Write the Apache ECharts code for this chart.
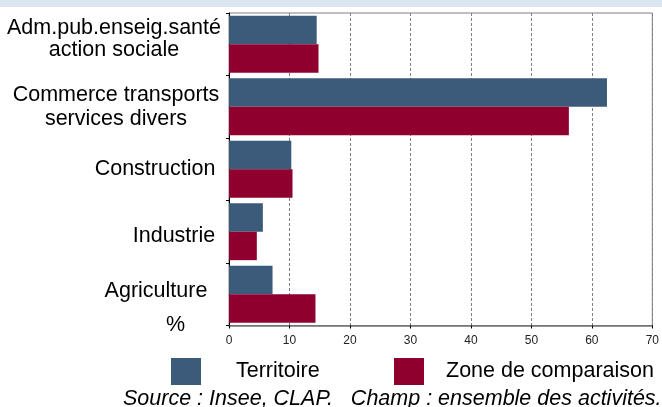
<!DOCTYPE html>
<html>
<head>
<meta charset="utf-8">
<script src="https://cdn.jsdelivr.net/npm/echarts@6/dist/echarts.min.js"></script>
<style>
  html, body { margin: 0; padding: 0; background: #fff; }
  #band { position: absolute; left: 0; top: 0; width: 662px; height: 7px; background: #dce6f2; }
  #chart { width: 662px; height: 407px; }
</style>
</head>
<body>
<div id="chart"></div>
<div id="band"></div>
<script>
// Sectors, top to bottom
const categories = [
  'Adm.pub.enseig.santé\naction sociale',
  'Commerce transports\nservices divers',
  'Construction',
  'Industrie',
  'Agriculture'
];
const seriesNames = ['Territoire', 'Zone de comparaison'];
// Share of establishments (%)
const territoire = [14.5, 62.5, 10.3, 5.6, 7.2];
const zoneComparaison = [14.8, 56.2, 10.5, 4.6, 14.3];
const xMin = 0, xMax = 70, xStep = 10;
const sourceText = 'Source : Insee, CLAP.   Champ : ensemble des activités.';

const FONT = 'Liberation Sans, Arial, sans-serif';
const LABEL_SIZE = 21.5;
// per-category label box: centring width, line height, vertical nudge (px, + = down)
const boxWidths = [216, 212, 134, 96, 132];
const lineHeights = [22, 24, 23, 23, 23];
const nudges = [-5, 0, 0, 4.5, -3];

const rich = {};
boxWidths.forEach((w, i) => {
  const base = {
    width: w, align: 'center', fontSize: LABEL_SIZE, lineHeight: lineHeights[i],
    fontFamily: FONT, color: '#000'
  };
  const d = nudges[i];
  const top = d > 0 ? 2 * d : 0;
  const bottom = d < 0 ? -2 * d : 0;
  rich['c' + i] = base;
  rich['s' + i] = Object.assign({}, base, { padding: [top, 0, bottom, 0] }); // single line
  rich['f' + i] = Object.assign({}, base, { padding: [top, 0, 0, 0] });     // first line
  // blank spacer line that lifts a multi-line block
  rich['g' + i] = { fontSize: 1, lineHeight: Math.max(bottom, 1), height: Math.max(bottom, 1) };
});

function categoryLabel(value, idx) {
  const lines = value.split('\n');
  if (lines.length === 1) return '{s' + idx + '|' + value + '}';
  const body = lines.map((l, k) => '{' + (k === 0 ? 'f' : 'c') + idx + '|' + l + '}').join('\n');
  return nudges[idx] < 0 ? body + '\n{g' + idx + '| }' : body;
}

const chart = echarts.init(document.getElementById('chart'), null, { renderer: 'canvas' });
chart.setOption({
  animation: false,
  textStyle: { fontFamily: FONT },
  grid: {
    left: 229, right: 6, top: 13, bottom: 81.5,
    show: true, borderColor: '#808080', borderWidth: 1, backgroundColor: '#fff'
  },
  legend: [
    {
      data: [seriesNames[0]], left: 166, top: 353,
      itemWidth: 30, itemHeight: 27, icon: 'rect',
      textStyle: { fontSize: LABEL_SIZE, color: '#000', padding: [0, 0, 0, 30] }
    },
    {
      data: [seriesNames[1]], left: 389, top: 353,
      itemWidth: 30, itemHeight: 27, icon: 'rect',
      textStyle: { fontSize: LABEL_SIZE, color: '#000', padding: [0, 0, 0, 17] }
    }
  ],
  title: {
    text: sourceText, left: 118, top: 383,
    textStyle: { fontSize: LABEL_SIZE, fontStyle: 'italic', fontWeight: 'normal', color: '#000', fontFamily: FONT }
  },
  xAxis: {
    type: 'value', min: xMin, max: xMax, interval: xStep,
    name: '%', nameLocation: 'start', nameGap: 44,
    nameTextStyle: { fontSize: LABEL_SIZE, color: '#000', verticalAlign: 'middle' },
    axisLine: { show: true, lineStyle: { color: '#707070', width: 1.5 } },
    axisTick: { show: true, length: 3, lineStyle: { color: '#000' } },
    axisLabel: { fontSize: 12, color: '#222', margin: 9, showMaxLabel: true },
    splitLine: { show: true, lineStyle: { color: '#808080', type: [3, 2], width: 1 } }
  },
  yAxis: {
    type: 'category', data: categories, inverse: true,
    axisLine: { show: true, lineStyle: { color: '#000', width: 1 } },
    axisTick: { show: true, length: 3, lineStyle: { color: '#000' } },
    axisLabel: {
      margin: 7, align: 'right',
      formatter: categoryLabel,
      rich: rich
    }
  },
  series: [
    {
      name: seriesNames[0], type: 'bar', data: territoire,
      itemStyle: { color: '#3c5b7a' },
      barGap: '0%', barCategoryGap: '9%'
    },
    {
      name: seriesNames[1], type: 'bar', data: zoneComparaison,
      itemStyle: { color: '#8f002e' },
      barGap: '0%', barCategoryGap: '9%'
    }
  ]
});
</script>
</body>
</html>
